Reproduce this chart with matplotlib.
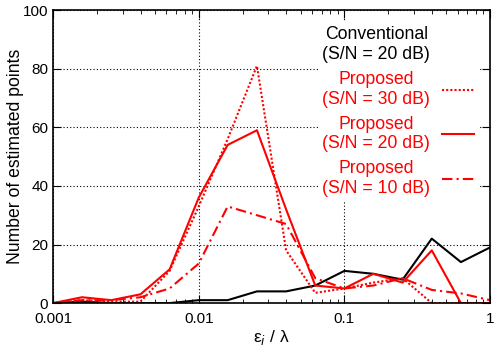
import numpy as np
import matplotlib.pyplot as plt
from matplotlib.lines import Line2D
from matplotlib.ticker import LogLocator, NullFormatter, FixedLocator

plt.rcParams['font.family'] = ['Liberation Sans', 'DejaVu Sans']

# eps_i / lambda, 5 points per decade
x = [0.001, 0.00158, 0.00251, 0.00398, 0.00631,
     0.01, 0.0158, 0.0251, 0.0398, 0.0631,
     0.1, 0.158, 0.251, 0.398, 0.631, 1.0]

conv_20 = [0, 0.5, 0, 0, 0, 1, 1, 4, 4, 6, 11, 10, 8, 22, 14, 19]
prop_30 = [0, 1, 0.5, 0.5, 11, 33, 56, 81, 18, 3.5, 5, 7, 8.5, 0, 0, 0]
prop_20 = [0, 2, 1, 3, 11.5, 36, 54, 59, 32, 6, 5, 10, 7, 18, 0, 0]
prop_10 = [0, 1, 1, 2, 5, 13.5, 33, 30, 27, 8.5, 5, 6, 8.5, 4.5, 3.3, 1]

labels = ["Conventional\n(S/N = 20 dB)",
          "Proposed\n(S/N = 30 dB)",
          "Proposed\n(S/N = 20 dB)",
          "Proposed\n(S/N = 10 dB)"]

fig = plt.figure(figsize=(4.96, 3.5), dpi=100)
ax = fig.add_axes([0.107, 0.134, 0.881, 0.837])

ax.plot(x, conv_20, color='black', lw=1.5)
ax.plot(x, prop_30, color='red', lw=1.5, linestyle=(0, (1, 1)))
ax.plot(x, prop_20, color='red', lw=1.5, linestyle='-')
ax.plot(x, prop_10, color='red', lw=1.5, linestyle=(0, (5, 2, 1, 2)))

ax.set_xscale('log')
ax.set_xlim(0.001, 1)
ax.set_ylim(0, 100)
ax.xaxis.set_major_locator(FixedLocator([0.001, 0.01, 0.1, 1]))
ax.set_xticklabels(['0.001', '0.01', '0.1', '1'])
ax.xaxis.set_minor_locator(LogLocator(base=10, subs=np.arange(2, 10)))
ax.xaxis.set_minor_formatter(NullFormatter())
ax.set_yticks([0, 20, 40, 60, 80, 100])

ax.grid(True, which='major', color='black', linestyle=(0, (1, 2)), lw=0.8)
ax.tick_params(which='both', direction='in', top=True, right=True, labelsize=11)
ax.tick_params(axis='x', which='major', pad=6.5)
ax.tick_params(which='major', length=6)
ax.tick_params(which='minor', length=3)
for s in ax.spines.values():
    s.set_linewidth(1.2)

ax.set_xlabel("ε$_i$ / λ", fontsize=12.5, labelpad=1.5)
ax.set_ylabel("Number of estimated points", fontsize=12.7)
ax.yaxis.set_label_coords(-0.066, 0.5)

handles = [Line2D([], [], color='none'),
           Line2D([], [], color='red', lw=1.5, linestyle=(0, (1, 1))),
           Line2D([], [], color='red', lw=1.5, linestyle='-'),
           Line2D([], [], color='red', lw=1.5, linestyle=(0, (5, 2, 1, 2)))]
leg = ax.legend(handles, labels, loc='upper right', frameon=True,
                facecolor='white', edgecolor='none', framealpha=1,
                fancybox=False, markerfirst=False, fontsize=12.7,
                handlelength=1.8, labelspacing=0.45, handletextpad=0.7,
                labelcolor=['black', 'red', 'red', 'red'],
                borderpad=0.2, borderaxespad=0.7)
for t in leg.get_texts():
    t.set_multialignment('center')
    t.set_linespacing(1.22)

fig.savefig('out.png', dpi=100)
